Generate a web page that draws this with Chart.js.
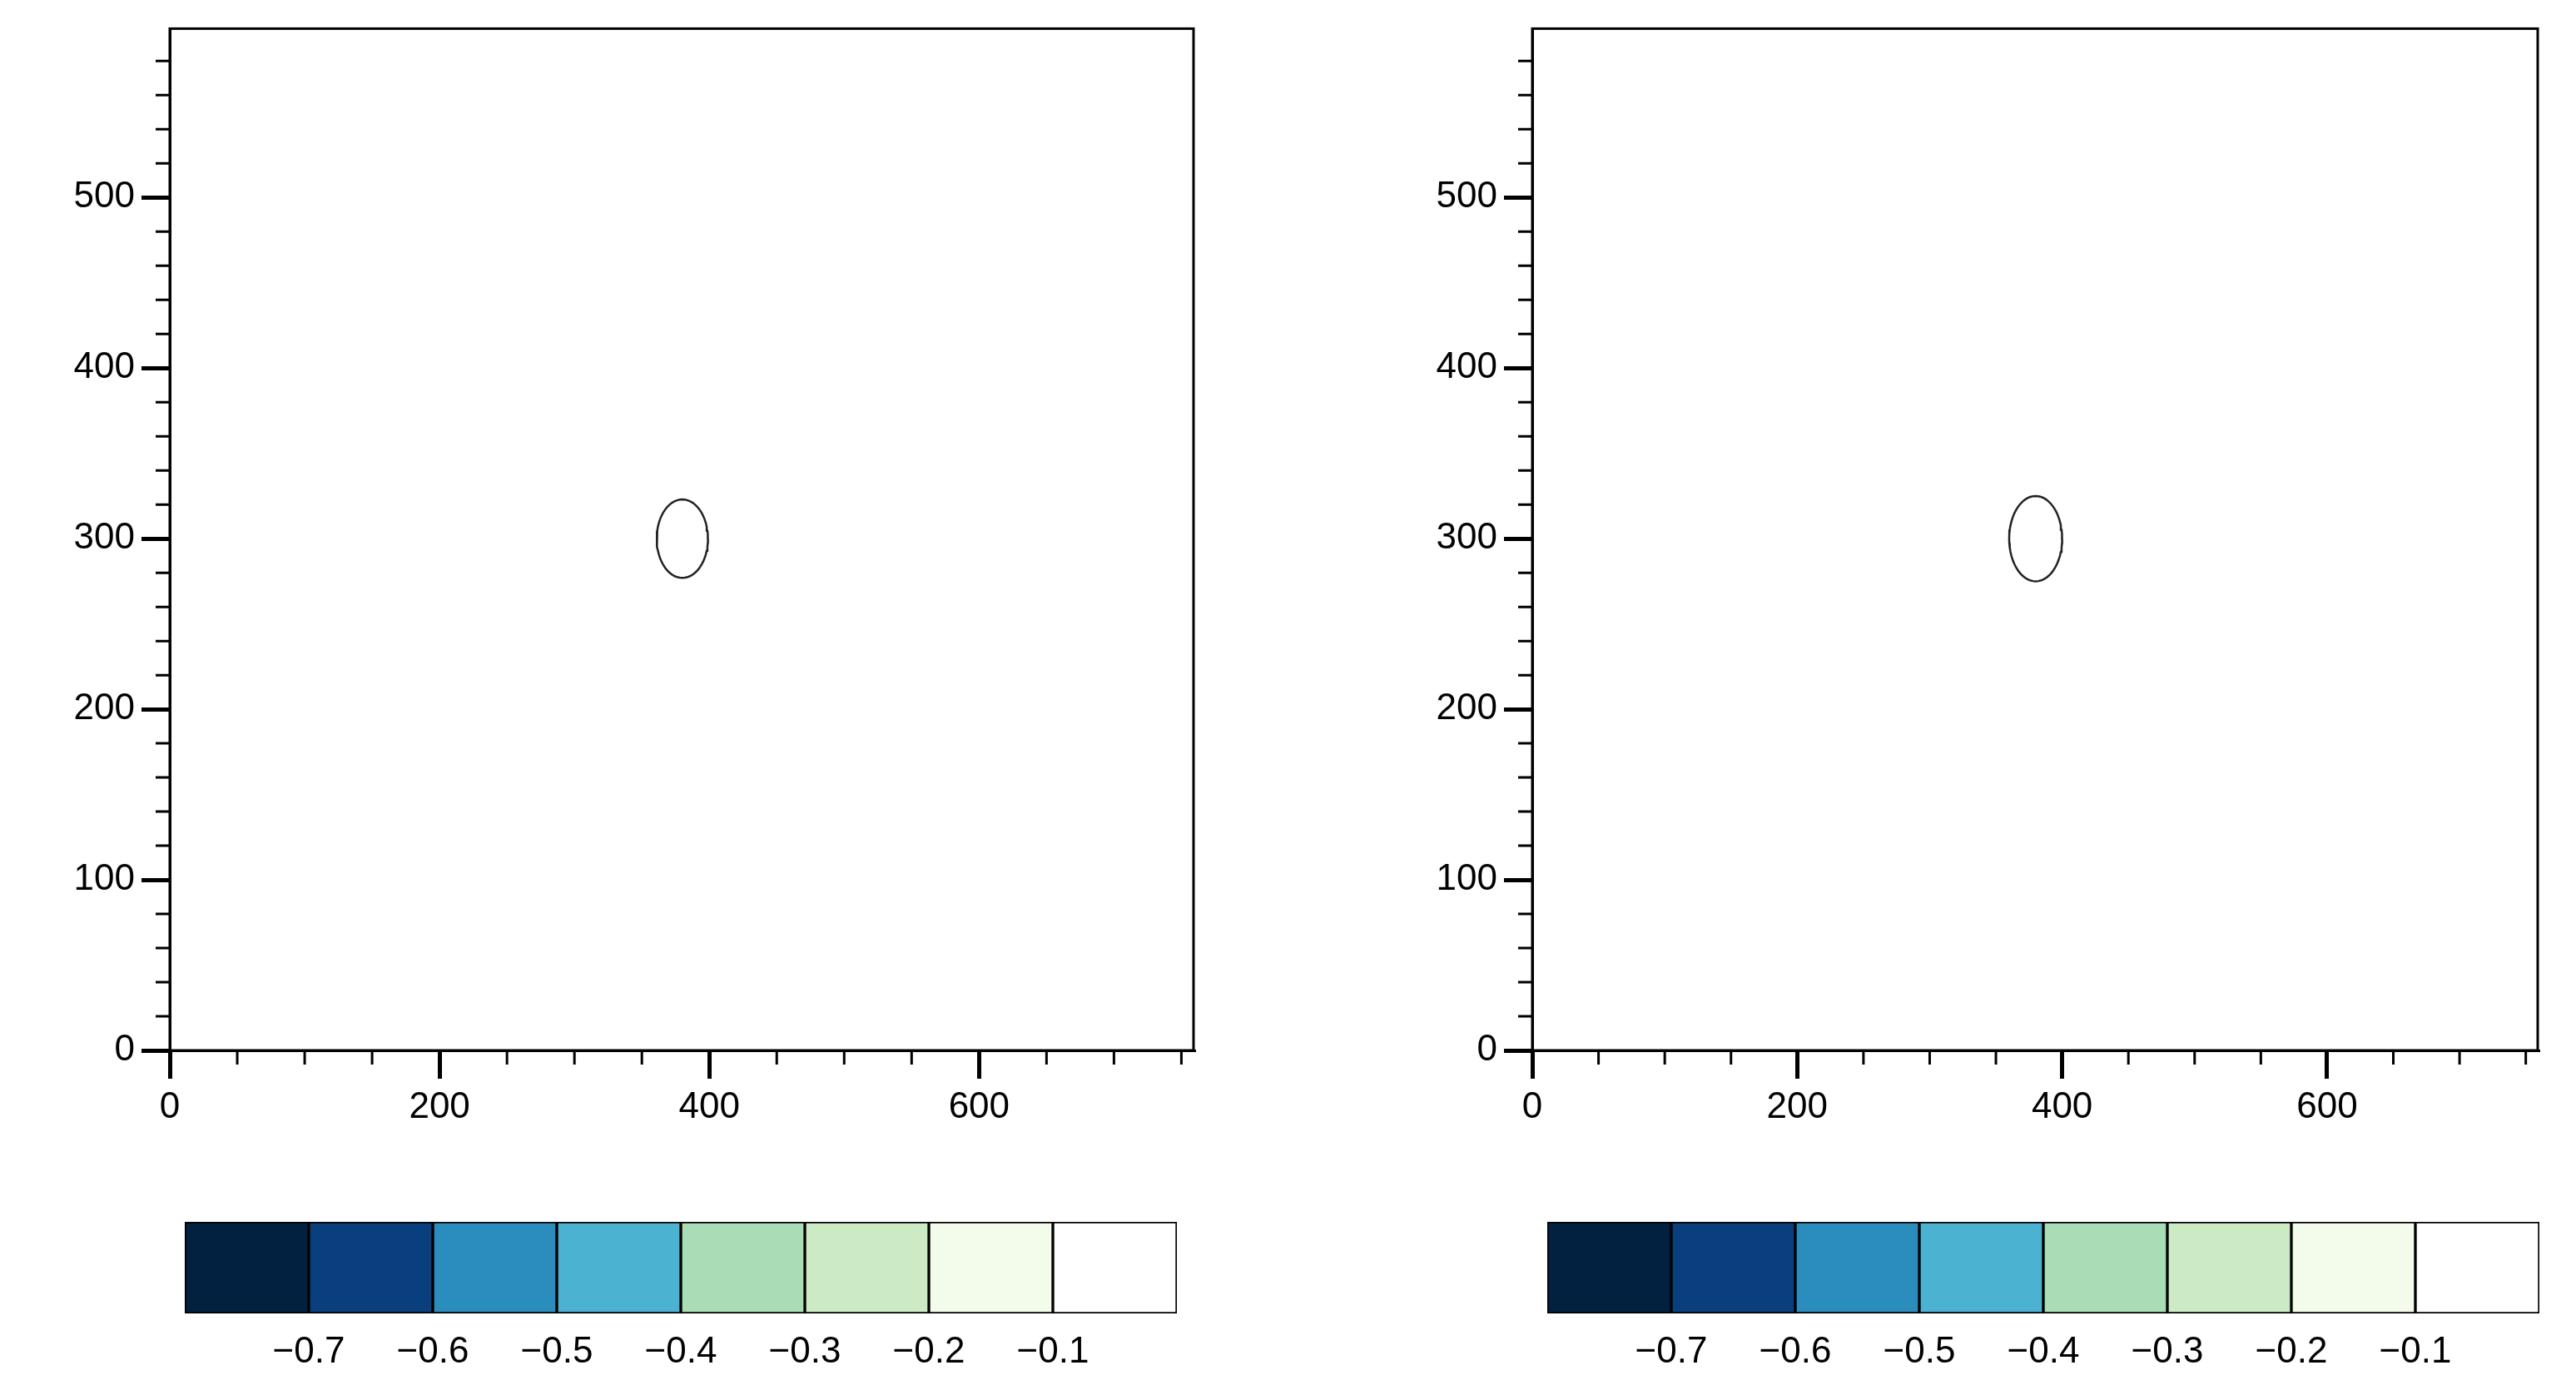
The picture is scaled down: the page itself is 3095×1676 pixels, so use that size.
<!DOCTYPE html>
<html><head><meta charset="utf-8">
<script src="https://cdn.jsdelivr.net/npm/chart.js@4"></script>
<style>body{margin:0;background:#fff;width:3095px;height:1676px;position:relative;overflow:hidden}
div.c{position:absolute}</style></head><body>
<div class="c" style="left:0;top:0;width:1480px;height:1400px"><canvas id="m1"></canvas></div>
<div class="c" style="left:1637px;top:0;width:1458px;height:1400px"><canvas id="m2"></canvas></div>
<div class="c" style="left:200px;top:1460px;width:1240px;height:210px"><canvas id="b1"></canvas></div>
<div class="c" style="left:1837px;top:1460px;width:1240px;height:210px"><canvas id="b2"></canvas></div>
<script>
const levels = [-0.7,-0.6,-0.5,-0.4,-0.3,-0.2,-0.1];
const levelLabels = ["\u22120.7","\u22120.6","\u22120.5","\u22120.4","\u22120.3","\u22120.2","\u22120.1"];
const colors = ["#02203f","#0a3f7e","#2b8cbe","#4cb2d2","#a8ddb5","#ccebc5","#f3fbea","#ffffff"];
const xTicks = [0,200,400,600];
const yTicks = [0,100,200,300,400,500];
// contour levels: [level, centerX, centerY, radiusX, radiusY]
const contoursLeft = [[-0.1,380,300,19,23],[-0.2,382,299,13,16],[-0.3,382,299,10,13],[-0.4,382,298,8,10],[-0.5,382,298,6,8],[-0.6,382,298,4,6],[-0.7,382,298,2.5,4]];
const contoursRight = [[-0.1,380,300,20,25],[-0.2,381,300,13,17],[-0.3,381,299,7,10],[-0.4,381,300,2,4]];

const F = "'Liberation Sans', Arial, sans-serif";
function poly(c){const pts=[];for(let i=0;i<=60;i++){const a=i/60*2*Math.PI;pts.push({x:c[1]+c[3]*Math.cos(a),y:c[2]+c[4]*Math.sin(a)});}return pts;}
const frame={id:'frame',afterDraw(ch){const {ctx,chartArea:a,scales:{x,y}}=ch;ctx.save();ctx.strokeStyle='#000';
 ctx.lineWidth=3;ctx.strokeRect(a.left,a.top,a.right-a.left,a.bottom-a.top);
 ctx.lineWidth=3;ctx.beginPath();
 for(let v=0;v<=760;v+=50){if(v%200===0)continue;const px=x.getPixelForValue(v);ctx.moveTo(px,a.bottom);ctx.lineTo(px,a.bottom+17);}
 for(let v=0;v<=600;v+=20){if(v%100===0)continue;const py=y.getPixelForValue(v);ctx.moveTo(a.left,py);ctx.lineTo(a.left-17,py);}
 ctx.stroke();ctx.restore();}};
function main(id,cons){
 const ds=cons.map(c=>({data:poly(c),showLine:true,fill:'shape',borderColor:'#222',borderWidth:2.5,pointRadius:0,
   backgroundColor:colors[levels.indexOf(c[0])+1]}));
 new Chart(document.getElementById(id),{type:'scatter',data:{datasets:ds},plugins:[frame],
 options:{responsive:true,maintainAspectRatio:false,animation:false,events:[],
  layout:{padding:{top:34,right:46}},plugins:{legend:{display:false},tooltip:{enabled:false}},
  scales:{x:{type:'linear',min:0,max:759,afterFit(s){s.height=138},afterBuildTicks(s){s.ticks=xTicks.map(v=>({value:v}))},
     border:{display:true,color:'#000',width:3},
     grid:{drawOnChartArea:false,color:'#000',lineWidth:5,tickLength:34,tickWidth:5},
     ticks:{color:'#000',font:{family:F,size:44},padding:8}},
   y:{type:'linear',min:0,max:599,afterFit(s){s.width=204},afterBuildTicks(s){s.ticks=yTicks.map(v=>({value:v}))},
     border:{display:true,color:'#000',width:3},
     grid:{drawOnChartArea:false,color:'#000',lineWidth:5,tickLength:34,tickWidth:5},
     ticks:{color:'#000',font:{family:F,size:44},padding:8}}}}});
}
main('m1',contoursLeft);main('m2',contoursRight);
function bar(id){
 const ds=colors.map(c=>({data:[1],backgroundColor:c,borderColor:'#000',borderWidth:2,borderSkipped:false,categoryPercentage:1,barPercentage:1}));
 new Chart(document.getElementById(id),{type:'bar',data:{labels:[''],datasets:ds},
 options:{indexAxis:'y',responsive:true,maintainAspectRatio:false,animation:false,events:[],
  layout:{padding:{left:22,right:26,top:8}},plugins:{legend:{display:false},tooltip:{enabled:false}},
  scales:{x:{stacked:true,min:0,max:8,afterFit(s){s.height=92},afterBuildTicks(s){s.ticks=levels.map((v,i)=>({value:i+1}))},
    grid:{display:false},border:{display:false},
    ticks:{autoSkip:false,maxRotation:0,color:'#000',font:{family:F,size:44},padding:12,callback:(v)=>levelLabels[v-1]}},
   y:{stacked:true,display:false}}}});
}
bar('b1');bar('b2');
</script></body></html>
